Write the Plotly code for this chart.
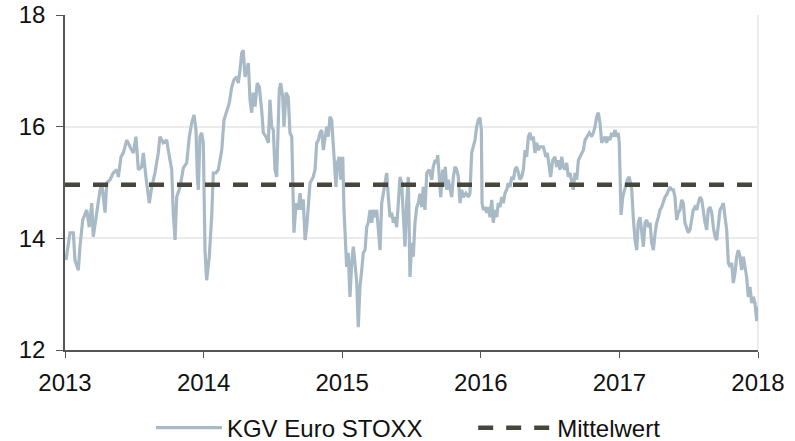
import plotly.graph_objects as go

# Years since start of 2013 and KGV values
t = [0.007,0.036,0.060,0.072,0.096,0.108,0.128,0.157,0.175,0.193,0.204,0.229,0.253,0.265,0.289,0.301,
     0.325,0.348,0.373,0.385,0.404,0.421,0.445,0.469,0.493,0.512,0.529,0.553,0.565,0.584,0.608,0.626,
     0.649,0.673,0.685,0.709,0.734,0.745,0.770,0.781,0.794,0.806,0.830,0.854,0.878,0.897,0.914,0.931,
     0.945,0.955,0.962,0.974,0.986,0.998,1.005,1.010,1.022,1.041,1.058,1.070,1.089,1.106,1.118,1.131,
     1.147,1.167,1.185,1.203,1.219,1.239,1.250,1.263,1.275,1.286,1.299,1.311,1.323,1.335,1.347,1.359,
     1.371,1.387,1.402,1.419,1.431,1.450,1.467,1.479,1.491,1.503,1.515,1.527,1.535,1.546,1.556,1.571,
     1.580,1.595,1.611,1.623,1.636,1.643,1.652,1.667,1.683,1.696,1.708,1.719,1.732,1.744,1.755,1.768,
     1.791,1.804,1.816,1.828,1.840,1.852,1.864,1.876,1.888,1.900,1.912,1.924,1.936,1.948,1.955,1.965,
     1.979,1.989,2.004,2.013,2.022,2.032,2.044,2.056,2.069,2.080,2.092,2.105,2.116,2.128,2.141,2.152,
     2.165,2.177,2.188,2.201,2.213,2.224,2.237,2.249,2.261,2.273,2.285,2.297,2.309,2.321,2.333,2.345,
     2.357,2.369,2.381,2.393,2.405,2.417,2.429,2.441,2.453,2.465,2.477,2.489,2.501,2.513,2.525,2.538,
     2.549,2.561,2.574,2.585,2.597,2.610,2.628,2.646,2.657,2.670,2.682,2.689,2.701,2.711,2.725,2.735,
     2.744,2.754,2.766,2.778,2.790,2.802,2.814,2.826,2.838,2.850,2.862,2.874,2.893,2.910,2.922,2.934,
     2.946,2.958,2.970,2.982,2.994,3.004,3.009,3.018,3.030,3.043,3.054,3.066,3.079,3.090,3.102,3.115,
     3.126,3.139,3.151,3.162,3.175,3.187,3.198,3.211,3.223,3.235,3.247,3.259,3.271,3.283,3.295,3.307,
     3.319,3.331,3.343,3.355,3.367,3.379,3.391,3.403,3.415,3.427,3.451,3.470,3.480,3.494,3.504,3.519,
     3.535,3.548,3.559,3.571,3.584,3.595,3.608,3.620,3.631,3.644,3.656,3.667,3.680,3.692,3.704,3.716,
     3.728,3.740,3.752,3.764,3.783,3.800,3.812,3.824,3.836,3.848,3.860,3.872,3.884,3.896,3.908,3.920,
     3.932,3.944,3.956,3.968,3.981,3.992,3.999,4.004,4.012,4.024,4.040,4.057,4.071,4.089,4.100,4.113,
     4.125,4.136,4.149,4.161,4.173,4.185,4.197,4.209,4.221,4.233,4.245,4.257,4.269,4.281,4.293,4.305,
     4.317,4.329,4.341,4.353,4.365,4.377,4.389,4.401,4.413,4.425,4.437,4.450,4.461,4.473,4.486,4.497,
     4.509,4.522,4.533,4.545,4.558,4.569,4.582,4.594,4.605,4.618,4.630,4.641,4.654,4.666,4.678,4.690,
     4.702,4.714,4.726,4.738,4.750,4.762,4.774,4.786,4.798,4.810,4.822,4.834,4.846,4.858,4.870,4.882,
     4.894,4.906,4.918,4.930,4.942,4.955,4.966,4.978,4.991,5.000]

kgv = [13.61,14.10,14.10,13.61,13.43,13.85,14.33,14.51,14.20,14.63,14.03,14.51,14.87,14.99,14.46,14.99,
       15.05,15.17,15.23,15.10,15.46,15.53,15.76,15.64,15.53,15.82,15.23,15.28,15.53,15.10,14.63,14.92,
       15.17,15.53,15.82,15.71,15.76,15.58,15.23,14.46,13.97,14.74,14.92,15.26,15.35,15.82,16.07,16.21,
       15.94,15.10,14.87,15.82,15.89,15.71,14.51,13.79,13.25,13.67,14.38,15.17,15.17,15.23,15.40,15.58,
       16.12,16.30,16.42,16.71,16.84,16.89,16.78,17.02,17.32,17.37,16.89,17.02,17.14,16.48,16.25,16.61,
       16.36,16.78,16.71,16.30,15.89,15.82,15.71,16.48,16.00,15.94,15.23,15.10,15.89,16.66,16.78,16.53,
       16.00,16.61,16.53,15.89,15.82,14.99,14.10,14.63,14.51,14.81,14.51,14.70,13.97,14.20,14.55,14.99,
       15.10,15.23,15.71,15.76,15.89,15.94,15.58,15.82,16.00,15.82,16.18,16.12,15.58,15.23,14.92,15.35,
       15.46,15.05,15.46,14.51,13.92,13.49,13.74,12.95,13.56,13.85,13.56,13.20,12.41,13.13,13.43,13.74,
       13.79,14.20,14.28,14.51,14.28,14.51,14.38,14.51,14.15,13.79,14.63,14.81,14.99,15.17,14.74,14.38,
       14.46,14.28,14.38,14.20,14.63,15.10,14.99,14.51,13.85,14.63,15.10,13.31,13.92,13.67,14.28,14.56,
       14.63,14.80,14.56,14.92,14.51,15.17,15.23,15.05,15.28,15.40,15.35,15.49,15.10,14.74,15.23,14.92,
       15.28,14.87,15.05,14.92,14.74,15.10,15.28,15.23,15.10,14.63,14.87,14.74,14.81,14.74,14.81,15.53,
       15.64,15.76,16.00,16.12,16.16,15.94,14.63,14.51,14.56,14.46,14.56,14.38,14.69,14.28,14.51,14.38,
       14.63,14.56,14.74,14.63,14.81,14.87,14.99,14.92,15.10,15.05,15.23,15.28,15.17,15.05,15.10,15.23,
       15.58,15.46,15.82,15.89,15.76,15.82,15.53,15.71,15.58,15.64,15.64,15.46,15.53,15.23,15.10,15.40,
       15.46,15.28,15.40,15.23,15.46,15.28,15.23,15.35,15.10,15.17,14.99,14.87,15.17,15.05,15.40,15.46,
       15.53,15.58,15.76,15.82,15.89,15.82,15.89,16.00,16.18,16.25,16.07,15.71,15.76,15.82,15.71,15.82,
       15.76,15.89,15.82,15.94,15.82,15.89,15.71,15.10,14.42,14.74,14.87,15.05,15.10,14.87,14.38,13.97,
       13.79,14.28,14.38,14.15,13.85,14.28,14.33,14.20,14.28,13.92,13.79,14.08,14.28,14.38,14.51,14.56,
       14.66,14.74,14.78,14.84,14.92,14.87,14.87,14.74,14.33,14.46,14.51,14.69,14.63,14.28,14.20,14.10,
       14.15,14.38,14.51,14.56,14.51,14.63,14.74,14.69,14.46,14.28,14.15,14.51,14.56,14.46,14.20,14.03,
       13.97,14.28,14.51,14.56,14.63,14.38,14.15,13.56,13.49,13.56,13.20,13.38,13.67,13.79,13.67,13.43,
       13.67,13.49,13.31,12.95,13.13,12.84,12.95,12.84,12.52,12.78]

start_year = 2013
end_year = 2018
mean_value = 14.96
x_ticks = [2013, 2014, 2015, 2016, 2017, 2018]
y_ticks = [12, 14, 16, 18]

x = [start_year + v for v in t]

fig = go.Figure()
fig.add_trace(go.Scatter(
    x=x, y=kgv, mode="lines", name="KGV Euro STOXX", legend="legend",
    line=dict(color="#a8bac6", width=3.2)))
fig.add_trace(go.Scatter(
    x=[start_year, end_year], y=[mean_value, mean_value], mode="lines", name="Mittelwert",
    legend="legend2",
    line=dict(color="#46463c", width=4.5, dash="15px,13px")))

font = "Arial, Liberation Sans, sans-serif"
fig.update_layout(
    width=795, height=441,
    margin=dict(l=65, r=37, t=15, b=91, autoexpand=False),
    paper_bgcolor="white", plot_bgcolor="white",
    font=dict(family=font, size=24, color="#111111"),
    showlegend=True,
    legend=dict(orientation="h", x=0.124, xanchor="left", y=-0.233, yanchor="middle",
                font=dict(size=24), itemwidth=66, bgcolor="rgba(0,0,0,0)"),
    legend2=dict(orientation="h", x=0.589, xanchor="left", y=-0.233, yanchor="middle",
                 font=dict(size=24), itemwidth=74, bgcolor="rgba(0,0,0,0)"),
    xaxis=dict(range=[start_year, end_year], tickvals=x_ticks, ticktext=[str(v) for v in x_ticks],
               showgrid=False, zeroline=False, showline=True, linecolor="#555555", linewidth=1.5,
               ticks="outside", ticklen=6, tickcolor="#555555", tickfont=dict(size=24),
               ticklabelstandoff=4, ticklabeloverflow="allow", automargin=False),
    yaxis=dict(range=[12, 18], tickvals=y_ticks, showgrid=True, gridcolor="#ebebeb", gridwidth=1.5,
               zeroline=False, showline=True, linecolor="#555555", linewidth=1.5,
               ticks="outside", ticklen=7, tickcolor="#555555", tickfont=dict(size=24),
               ticklabelstandoff=6, ticklabeloverflow="allow", automargin=False),
)
fig.add_shape(type="line", xref="paper", yref="paper", x0=1, x1=1, y0=0, y1=1,
              line=dict(color="#e6e6e6", width=1.5), layer="below")

# remove the default 8px page margin so the 795x441 figure fills the window exactly
fig.write_html("out.html", config={"displayModeBar": False},
               post_script="document.body.style.margin='0px';")
